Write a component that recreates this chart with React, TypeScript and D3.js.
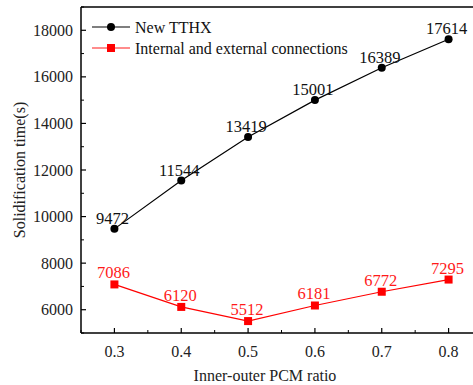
import { scaleLinear, line as d3Line, range } from "d3";

const ratios = [0.3, 0.4, 0.5, 0.6, 0.7, 0.8];
const newTthx = [9472, 11544, 13419, 15001, 16389, 17614];
const internalExternal = [7086, 6120, 5512, 6181, 6772, 7295];
const yTicks = [6000, 8000, 10000, 12000, 14000, 16000, 18000];
const yMinorTicks = [5000, 7000, 9000, 11000, 13000, 15000, 17000, 19000];
const seriesNames = ["New TTHX", "Internal and external connections"];

const W = 473;
const H = 385;
// plot box; right edge runs past the window like the original
const M = { left: 81, top: 7, bottom: 333 };
const FONT = "Liberation Serif";

const App = () => {
  const x = scaleLinear().domain([0.25, 0.85]).range([M.left, M.left + 401]);
  const y = scaleLinear().domain([5000, 19000]).range([M.bottom, M.top]);

  const pts = (vals: number[]) => vals.map((v, i) => [x(ratios[i]), y(v)] as [number, number]);
  const line = d3Line();

  return (
    <svg
      width={W}
      height={H}
      style={{ position: "fixed", left: 0, top: 0, background: "white" }}
    >
      <g fontFamily={FONT}>
      {/* frame */}
      <line x1={M.left} y1={M.top} x2={W + 5} y2={M.top} stroke="#000" strokeWidth={1.5} />
      <line x1={M.left} y1={M.top} x2={M.left} y2={M.bottom} stroke="#000" strokeWidth={1.5} />
      <line x1={M.left} y1={M.bottom} x2={W + 5} y2={M.bottom} stroke="#000" strokeWidth={1.5} />

      {/* y axis */}
      {yTicks.map((t) => (
        <g key={t}>
          <line x1={M.left} x2={M.left + 5} y1={y(t)} y2={y(t)} stroke="#000" strokeWidth={1.2} />
          <text x={M.left - 8} y={y(t)} dy="0.35em" textAnchor="end" fontSize={16} fill="#222">
            {t}
          </text>
        </g>
      ))}
      {yMinorTicks.map((t) => (
        <line key={t} x1={M.left} x2={M.left + 3} y1={y(t)} y2={y(t)} stroke="#000" strokeWidth={1} />
      ))}

      {/* x axis */}
      {ratios.map((r) => (
        <g key={r}>
          <line x1={x(r)} x2={x(r)} y1={M.bottom} y2={M.bottom - 5} stroke="#000" strokeWidth={1.2} />
          <text x={x(r)} y={M.bottom + 24} textAnchor="middle" fontSize={16} fill="#222">
            {r.toFixed(1)}
          </text>
        </g>
      ))}
      {range(0.25, 0.86, 0.1).map((r) => (
        <line key={r} x1={x(r)} x2={x(r)} y1={M.bottom} y2={M.bottom - 3} stroke="#000" strokeWidth={1} />
      ))}

      {/* axis titles */}
      <text
        transform={`translate(25, ${(M.top + M.bottom) / 2}) rotate(-90)`}
        textAnchor="middle"
        fontSize={16}
        fill="#222"
      >
        Solidification time(s)
      </text>
      <text x={265} y={381} textAnchor="middle" fontSize={16} fill="#222">
        Inner-outer PCM ratio
      </text>

      {/* series */}
      <path d={line(pts(newTthx)) ?? ""} fill="none" stroke="#000" strokeWidth={1.2} />
      <path d={line(pts(internalExternal)) ?? ""} fill="none" stroke="#ff0000" strokeWidth={1.2} />
      {pts(newTthx).map(([px, py], i) => (
        <g key={i}>
          <circle cx={px} cy={py} r={4} fill="#000" />
          <text x={px - 2} y={py - 5} textAnchor="middle" fontSize={16.5} fill="#111">
            {newTthx[i]}
          </text>
        </g>
      ))}
      {pts(internalExternal).map(([px, py], i) => (
        <g key={i}>
          <rect x={px - 4} y={py - 4} width={8} height={8} fill="#ff0000" />
          <text x={px - 1} y={py - 6} textAnchor="middle" fontSize={16.5} fill="#ff1a1a">
            {internalExternal[i]}
          </text>
        </g>
      ))}

      {/* legend */}
      <line x1={92} x2={130} y1={27} y2={27} stroke="#000" strokeWidth={1.2} />
      <circle cx={111} cy={27} r={4} fill="#000" />
      <text x={135} y={27} dy="0.35em" fontSize={16} fill="#111">
        {seriesNames[0]}
      </text>
      <line x1={92} x2={130} y1={48} y2={48} stroke="#ff6666" strokeWidth={1.5} />
      <rect x={107} y={44} width={8} height={8} fill="#ff0000" />
      <text x={135} y={48} dy="0.35em" fontSize={16} fill="#111">
        {seriesNames[1]}
      </text>
      </g>
    </svg>
  );
};

export default App;
